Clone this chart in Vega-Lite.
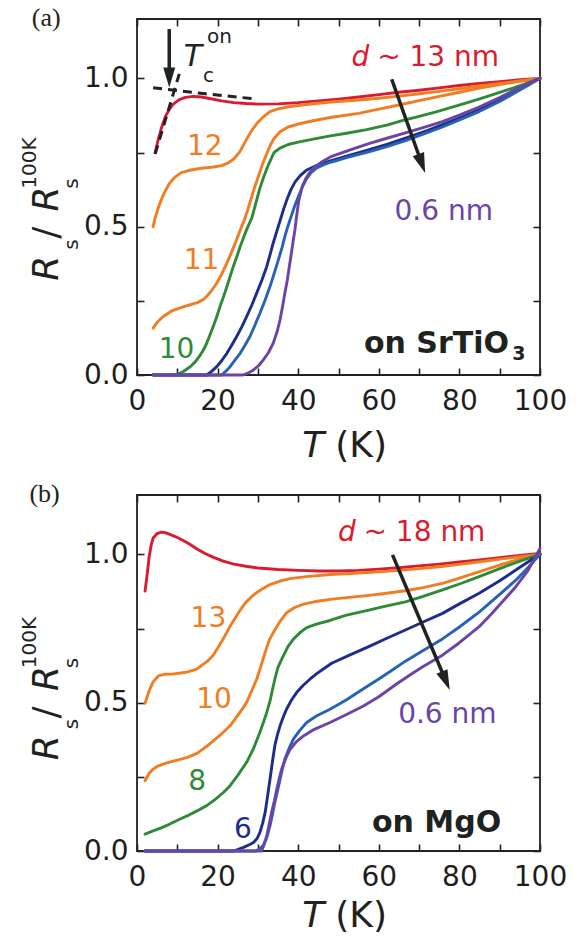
{
 "$schema": "https://vega.github.io/schema/vega-lite/v6.json",
 "background": "white",
 "padding": {"left": 18, "top": 4, "right": 0, "bottom": 0},
 "spacing": 120,
 "bounds": "flush",
 "resolve": {"scale": {"color": "independent"}},
 "config": {
  "view": {"stroke": "#222", "strokeWidth": 1.8},
  "font": "DejaVu Sans",
  "axis": {"domain": false, "grid": false, "tickColor": "#222", "tickWidth": 1.6, "tickSize": -7, "labelFont": "DejaVu Sans", "labelFontSize": 28, "labelColor": "#1e1e1e", "labelFlush": false, "labelOverlap": false}
 },
 "vconcat": [
  {
   "width": 403, "height": 356,
   "layer": [
    {
     "data": {"values": [
      {"series":"13 nm","T":4.5,"R":0.75},{"series":"13 nm","T":5.2,"R":0.79},{"series":"13 nm","T":6,"R":0.83},{"series":"13 nm","T":7,"R":0.87},{"series":"13 nm","T":8,"R":0.895},{"series":"13 nm","T":9,"R":0.913},{"series":"13 nm","T":10.5,"R":0.928},{"series":"13 nm","T":12,"R":0.936},{"series":"13 nm","T":14,"R":0.939},{"series":"13 nm","T":16,"R":0.937},{"series":"13 nm","T":18,"R":0.932},{"series":"13 nm","T":21,"R":0.924},{"series":"13 nm","T":24,"R":0.918},{"series":"13 nm","T":27,"R":0.915},{"series":"13 nm","T":30,"R":0.913},{"series":"13 nm","T":35,"R":0.914},{"series":"13 nm","T":40,"R":0.918},{"series":"13 nm","T":45,"R":0.924},{"series":"13 nm","T":50,"R":0.93},{"series":"13 nm","T":55,"R":0.937},{"series":"13 nm","T":60,"R":0.945},{"series":"13 nm","T":65,"R":0.953},{"series":"13 nm","T":70,"R":0.96},{"series":"13 nm","T":75,"R":0.968},{"series":"13 nm","T":80,"R":0.976},{"series":"13 nm","T":85,"R":0.983},{"series":"13 nm","T":90,"R":0.989},{"series":"13 nm","T":95,"R":0.995},{"series":"13 nm","T":100,"R":1.0},
      {"series":"12 nm","T":4,"R":0.5},{"series":"12 nm","T":4.5,"R":0.53},{"series":"12 nm","T":5.5,"R":0.572},{"series":"12 nm","T":6.5,"R":0.607},{"series":"12 nm","T":8,"R":0.645},{"series":"12 nm","T":9.5,"R":0.668},{"series":"12 nm","T":11,"R":0.682},{"series":"12 nm","T":13,"R":0.69},{"series":"12 nm","T":16,"R":0.697},{"series":"12 nm","T":19,"R":0.701},{"series":"12 nm","T":21,"R":0.706},{"series":"12 nm","T":22.5,"R":0.714},{"series":"12 nm","T":24,"R":0.728},{"series":"12 nm","T":25.5,"R":0.752},{"series":"12 nm","T":27,"R":0.79},{"series":"12 nm","T":28.5,"R":0.825},{"series":"12 nm","T":30,"R":0.852},{"series":"12 nm","T":31.5,"R":0.872},{"series":"12 nm","T":33,"R":0.888},{"series":"12 nm","T":35,"R":0.897},{"series":"12 nm","T":38,"R":0.905},{"series":"12 nm","T":42,"R":0.912},{"series":"12 nm","T":48,"R":0.92},{"series":"12 nm","T":55,"R":0.927},{"series":"12 nm","T":60,"R":0.933},{"series":"12 nm","T":65,"R":0.94},{"series":"12 nm","T":70,"R":0.948},{"series":"12 nm","T":75,"R":0.956},{"series":"12 nm","T":80,"R":0.965},{"series":"12 nm","T":85,"R":0.974},{"series":"12 nm","T":90,"R":0.983},{"series":"12 nm","T":95,"R":0.991},{"series":"12 nm","T":100,"R":1.0},
      {"series":"11 nm","T":4,"R":0.158},{"series":"11 nm","T":5,"R":0.178},{"series":"11 nm","T":6.5,"R":0.197},{"series":"11 nm","T":8.5,"R":0.215},{"series":"11 nm","T":10.7,"R":0.226},{"series":"11 nm","T":13,"R":0.236},{"series":"11 nm","T":15,"R":0.244},{"series":"11 nm","T":16.5,"R":0.255},{"series":"11 nm","T":17.5,"R":0.268},{"series":"11 nm","T":18.7,"R":0.288},{"series":"11 nm","T":19.8,"R":0.31},{"series":"11 nm","T":21,"R":0.34},{"series":"11 nm","T":22.3,"R":0.377},{"series":"11 nm","T":23.5,"R":0.415},{"series":"11 nm","T":24.7,"R":0.456},{"series":"11 nm","T":25.8,"R":0.495},{"series":"11 nm","T":26.8,"R":0.528},{"series":"11 nm","T":28,"R":0.58},{"series":"11 nm","T":29,"R":0.625},{"series":"11 nm","T":30,"R":0.665},{"series":"11 nm","T":31,"R":0.705},{"series":"11 nm","T":32,"R":0.74},{"series":"11 nm","T":33,"R":0.772},{"series":"11 nm","T":34,"R":0.797},{"series":"11 nm","T":35.5,"R":0.82},{"series":"11 nm","T":37.5,"R":0.836},{"series":"11 nm","T":40,"R":0.846},{"series":"11 nm","T":44,"R":0.858},{"series":"11 nm","T":48,"R":0.868},{"series":"11 nm","T":55,"R":0.882},{"series":"11 nm","T":60,"R":0.896},{"series":"11 nm","T":65,"R":0.91},{"series":"11 nm","T":70,"R":0.925},{"series":"11 nm","T":75,"R":0.939},{"series":"11 nm","T":80,"R":0.953},{"series":"11 nm","T":85,"R":0.967},{"series":"11 nm","T":90,"R":0.979},{"series":"11 nm","T":95,"R":0.99},{"series":"11 nm","T":100,"R":1.0},
      {"series":"10 nm","T":9.5,"R":0.0},{"series":"10 nm","T":10.3,"R":0.004},{"series":"10 nm","T":11.5,"R":0.012},{"series":"10 nm","T":13.2,"R":0.028},{"series":"10 nm","T":14.5,"R":0.045},{"series":"10 nm","T":15.6,"R":0.065},{"series":"10 nm","T":16.5,"R":0.085},{"series":"10 nm","T":17.3,"R":0.107},{"series":"10 nm","T":18.1,"R":0.135},{"series":"10 nm","T":18.9,"R":0.163},{"series":"10 nm","T":19.8,"R":0.197},{"series":"10 nm","T":20.6,"R":0.231},{"series":"10 nm","T":21.5,"R":0.265},{"series":"10 nm","T":22.3,"R":0.298},{"series":"10 nm","T":23.1,"R":0.332},{"series":"10 nm","T":23.9,"R":0.366},{"series":"10 nm","T":24.8,"R":0.4},{"series":"10 nm","T":25.6,"R":0.433},{"series":"10 nm","T":26.4,"R":0.462},{"series":"10 nm","T":27.2,"R":0.49},{"series":"10 nm","T":28.5,"R":0.53},{"series":"10 nm","T":29.5,"R":0.58},{"series":"10 nm","T":30.5,"R":0.63},{"series":"10 nm","T":31.5,"R":0.67},{"series":"10 nm","T":32.5,"R":0.705},{"series":"10 nm","T":34,"R":0.75},{"series":"10 nm","T":35.5,"R":0.765},{"series":"10 nm","T":37.5,"R":0.777},{"series":"10 nm","T":40,"R":0.785},{"series":"10 nm","T":44,"R":0.796},{"series":"10 nm","T":48,"R":0.806},{"series":"10 nm","T":52,"R":0.815},{"series":"10 nm","T":57,"R":0.827},{"series":"10 nm","T":62,"R":0.842},{"series":"10 nm","T":66,"R":0.858},{"series":"10 nm","T":70,"R":0.872},{"series":"10 nm","T":74,"R":0.886},{"series":"10 nm","T":78,"R":0.902},{"series":"10 nm","T":82,"R":0.918},{"series":"10 nm","T":86,"R":0.935},{"series":"10 nm","T":90,"R":0.953},{"series":"10 nm","T":94,"R":0.97},{"series":"10 nm","T":97,"R":0.985},{"series":"10 nm","T":100,"R":1.0},
      {"series":"thin 1","T":4,"R":0.0},{"series":"thin 1","T":17.3,"R":0.0},{"series":"thin 1","T":18.5,"R":0.012},{"series":"thin 1","T":19.8,"R":0.028},{"series":"thin 1","T":21,"R":0.048},{"series":"thin 1","T":22.3,"R":0.073},{"series":"thin 1","T":23.5,"R":0.1},{"series":"thin 1","T":24.7,"R":0.129},{"series":"thin 1","T":26,"R":0.162},{"series":"thin 1","T":27.2,"R":0.197},{"series":"thin 1","T":28.5,"R":0.236},{"series":"thin 1","T":29.7,"R":0.276},{"series":"thin 1","T":31,"R":0.32},{"series":"thin 1","T":32.2,"R":0.366},{"series":"thin 1","T":33,"R":0.405},{"series":"thin 1","T":33.8,"R":0.445},{"series":"thin 1","T":34.7,"R":0.485},{"series":"thin 1","T":35.5,"R":0.52},{"series":"thin 1","T":36.4,"R":0.56},{"series":"thin 1","T":37.3,"R":0.595},{"series":"thin 1","T":38.2,"R":0.625},{"series":"thin 1","T":39.2,"R":0.65},{"series":"thin 1","T":40.5,"R":0.672},{"series":"thin 1","T":42,"R":0.69},{"series":"thin 1","T":44,"R":0.703},{"series":"thin 1","T":48,"R":0.722},{"series":"thin 1","T":52,"R":0.738},{"series":"thin 1","T":57,"R":0.757},{"series":"thin 1","T":62,"R":0.777},{"series":"thin 1","T":67,"R":0.8},{"series":"thin 1","T":72,"R":0.824},{"series":"thin 1","T":76,"R":0.845},{"series":"thin 1","T":80,"R":0.866},{"series":"thin 1","T":85,"R":0.895},{"series":"thin 1","T":90,"R":0.93},{"series":"thin 1","T":94,"R":0.961},{"series":"thin 1","T":97,"R":0.98},{"series":"thin 1","T":100,"R":1.0},
      {"series":"thin 2","T":4,"R":0.0},{"series":"thin 2","T":21,"R":0.0},{"series":"thin 2","T":22,"R":0.012},{"series":"thin 2","T":23.1,"R":0.028},{"series":"thin 2","T":24.3,"R":0.05},{"series":"thin 2","T":25.6,"R":0.073},{"series":"thin 2","T":26.8,"R":0.1},{"series":"thin 2","T":28,"R":0.129},{"series":"thin 2","T":29.2,"R":0.166},{"series":"thin 2","T":30.5,"R":0.208},{"series":"thin 2","T":31.8,"R":0.253},{"series":"thin 2","T":33,"R":0.298},{"series":"thin 2","T":34.1,"R":0.345},{"series":"thin 2","T":35.1,"R":0.389},{"series":"thin 2","T":36,"R":0.43},{"series":"thin 2","T":36.7,"R":0.467},{"series":"thin 2","T":37.4,"R":0.5},{"series":"thin 2","T":38,"R":0.524},{"series":"thin 2","T":39,"R":0.565},{"series":"thin 2","T":40,"R":0.6},{"series":"thin 2","T":41,"R":0.633},{"series":"thin 2","T":42,"R":0.66},{"series":"thin 2","T":43.2,"R":0.682},{"series":"thin 2","T":44.6,"R":0.698},{"series":"thin 2","T":46.5,"R":0.71},{"series":"thin 2","T":48.3,"R":0.718},{"series":"thin 2","T":52,"R":0.733},{"series":"thin 2","T":57.5,"R":0.752},{"series":"thin 2","T":62,"R":0.77},{"series":"thin 2","T":66.6,"R":0.79},{"series":"thin 2","T":71,"R":0.812},{"series":"thin 2","T":75.8,"R":0.836},{"series":"thin 2","T":80,"R":0.86},{"series":"thin 2","T":84.9,"R":0.888},{"series":"thin 2","T":90,"R":0.922},{"series":"thin 2","T":94,"R":0.953},{"series":"thin 2","T":97,"R":0.976},{"series":"thin 2","T":100,"R":1.0},
      {"series":"0.6 nm","T":4,"R":0.0},{"series":"0.6 nm","T":26.3,"R":0.0},{"series":"0.6 nm","T":27.5,"R":0.006},{"series":"0.6 nm","T":28.9,"R":0.017},{"series":"0.6 nm","T":30.2,"R":0.032},{"series":"0.6 nm","T":31.3,"R":0.05},{"series":"0.6 nm","T":32.6,"R":0.075},{"series":"0.6 nm","T":33.8,"R":0.107},{"series":"0.6 nm","T":34.7,"R":0.143},{"series":"0.6 nm","T":35.5,"R":0.186},{"series":"0.6 nm","T":36.1,"R":0.23},{"series":"0.6 nm","T":36.7,"R":0.276},{"series":"0.6 nm","T":37.3,"R":0.32},{"series":"0.6 nm","T":37.8,"R":0.366},{"series":"0.6 nm","T":38.3,"R":0.41},{"series":"0.6 nm","T":38.8,"R":0.456},{"series":"0.6 nm","T":39.2,"R":0.49},{"series":"0.6 nm","T":39.5,"R":0.524},{"series":"0.6 nm","T":40.1,"R":0.585},{"series":"0.6 nm","T":41,"R":0.636},{"series":"0.6 nm","T":42,"R":0.665},{"series":"0.6 nm","T":42.8,"R":0.682},{"series":"0.6 nm","T":44,"R":0.7},{"series":"0.6 nm","T":45.6,"R":0.716},{"series":"0.6 nm","T":48.3,"R":0.737},{"series":"0.6 nm","T":52.9,"R":0.759},{"series":"0.6 nm","T":57.5,"R":0.78},{"series":"0.6 nm","T":62,"R":0.798},{"series":"0.6 nm","T":66.6,"R":0.816},{"series":"0.6 nm","T":71,"R":0.834},{"series":"0.6 nm","T":75.8,"R":0.854},{"series":"0.6 nm","T":80,"R":0.876},{"series":"0.6 nm","T":84.9,"R":0.903},{"series":"0.6 nm","T":90,"R":0.935},{"series":"0.6 nm","T":94,"R":0.963},{"series":"0.6 nm","T":97,"R":0.982},{"series":"0.6 nm","T":100,"R":1.0}
     ]},
     "mark": {"type": "line", "strokeWidth": 2.9, "strokeCap": "round", "strokeJoin": "round"},
     "encoding": {
      "x": {"field": "T", "type": "quantitative", "scale": {"domain": [0, 100], "nice": false, "zero": false}, "axis": {"orient": "bottom", "values": [0,10,20,30,40,50,60,70,80,90,100], "labelExpr": "datum.value % 20 == 0 ? datum.label : ''", "title": null, "labelPadding": 19}},
      "y": {"field": "R", "type": "quantitative", "scale": {"domain": [0, 1.2], "nice": false, "zero": false}, "axis": {"orient": "left", "values": [0,0.25,0.5,0.75,1], "format": ".1f", "labelExpr": "(datum.value == 0 || datum.value == 0.5 || datum.value == 1) ? datum.label : ''", "title": null, "labelPadding": 16}},
      "color": {"field": "series", "type": "nominal", "scale": {"domain": ["13 nm","12 nm","11 nm","10 nm","thin 1","thin 2","0.6 nm"], "range": ["#d81b30","#f07d22","#f07d22","#2f8a37","#1d2d8a","#2762b5","#6b44a6"]}, "legend": null}
     }
    },
    {
     "data": {"values": [
      {"T":12.4,"R":0.743,"text":"12","series":"12 nm"},
      {"T":11.6,"R":0.356,"text":"11","series":"11 nm"},
      {"T":5.4,"R":0.058,"text":"10","series":"10 nm"},
      {"T":59.6,"R":1.042,"text":"~ 13 nm","series":"13 nm"},
      {"T":63.9,"R":0.524,"text":"0.6 nm","series":"0.6 nm"}
     ]},
     "mark": {"type": "text", "fontSize": 28, "align": "left", "baseline": "alphabetic"},
     "encoding": {
      "x": {"field": "T", "type": "quantitative", "axis": {"orient": "top", "values": [0,10,20,30,40,50,60,70,80,90,100], "labels": false, "title": null}},
      "y": {"field": "R", "type": "quantitative", "axis": {"orient": "right", "values": [0,0.25,0.5,0.75,1], "labels": false, "title": null}},
      "text": {"field": "text"},
      "color": {"field": "series", "type": "nominal", "legend": null}
     }
    },
    {
     "data": {"values": [{"T":53.2,"R":1.042,"text":"d","series":"13 nm"}]},
     "mark": {"type": "text", "fontSize": 28, "fontStyle": "italic", "align": "left", "baseline": "alphabetic"},
     "encoding": {"x": {"field": "T", "type": "quantitative", "axis": null}, "y": {"field": "R", "type": "quantitative", "axis": null}, "text": {"field": "text"}, "color": {"field": "series", "type": "nominal", "legend": null}}
    },
    {
     "data": {"values": [{"T":56.3,"R":0.075,"text":"on SrTiO"}]},
     "mark": {"type": "text", "fontSize": 30, "fontWeight": "bold", "color": "#1e2320", "align": "left", "baseline": "alphabetic"},
     "encoding": {"x": {"field": "T", "type": "quantitative", "axis": null}, "y": {"field": "R", "type": "quantitative", "axis": null}, "text": {"field": "text"}}
    },
    {
     "data": {"values": [{"T":93.1,"R":0.051,"text":"3"}]},
     "mark": {"type": "text", "fontSize": 19, "fontWeight": "bold", "color": "#1e2320", "align": "left", "baseline": "alphabetic"},
     "encoding": {"x": {"field": "T", "type": "quantitative", "axis": null}, "y": {"field": "R", "type": "quantitative", "axis": null}, "text": {"field": "text"}}
    },
    {
     "data": {"values": [{"seg":"steep","T":4.5,"R":0.745},{"seg":"steep","T":10.5,"R":1.015},{"seg":"flat","T":4.0,"R":0.968},{"seg":"flat","T":17,"R":0.948},{"seg":"flat","T":29.0,"R":0.931}]},
     "mark": {"type": "line", "color": "#222", "strokeWidth": 3, "strokeDash": [9, 6]},
     "encoding": {"x": {"field": "T", "type": "quantitative", "axis": null}, "y": {"field": "R", "type": "quantitative", "axis": null}, "detail": {"field": "seg"}}
    },
    {
     "data": {"values": [{"seg":"tc","T":8.0,"R":1.166},{"seg":"tc","T":8.0,"R":1.0},{"seg":"d","T":63.2,"R":0.997},{"seg":"d","T":70.66,"R":0.713}]},
     "mark": {"type": "line", "color": "#1f2420", "strokeWidth": 3.5},
     "encoding": {"x": {"field": "T", "type": "quantitative", "axis": null}, "y": {"field": "R", "type": "quantitative", "axis": null}, "detail": {"field": "seg"}}
    },
    {
     "data": {"values": [{"T":8.0,"R":0.969}]},
     "mark": {"type": "point", "shape": "M0,0L-0.6,-2L0.6,-2Z", "size": 400, "filled": true, "color": "#1f2420", "opacity": 1, "strokeWidth": 0, "angle": 0},
     "encoding": {"x": {"field": "T", "type": "quantitative", "axis": null}, "y": {"field": "R", "type": "quantitative", "axis": null}}
    },
    {
     "data": {"values": [{"T":71.5,"R":0.681}]},
     "mark": {"type": "point", "shape": "M0,0L-0.6,-2L0.6,-2Z", "size": 400, "filled": true, "color": "#1f2420", "opacity": 1, "strokeWidth": 0, "angle": 340.3},
     "encoding": {"x": {"field": "T", "type": "quantitative", "axis": null}, "y": {"field": "R", "type": "quantitative", "axis": null}}
    },
    {
     "data": {"values": [{"T":11.6,"R":1.04,"text":"T"}]},
     "mark": {"type": "text", "fontSize": 30, "fontStyle": "italic", "color": "#1e2320", "align": "left", "baseline": "alphabetic"},
     "encoding": {"x": {"field": "T", "type": "quantitative", "axis": null}, "y": {"field": "R", "type": "quantitative", "axis": null}, "text": {"field": "text"}}
    },
    {
     "data": {"values": [{"T":16.4,"R":0.986,"text":"c"},{"T":17.4,"R":1.12,"text":"on"}]},
     "mark": {"type": "text", "fontSize": 20, "color": "#1e2320", "align": "left", "baseline": "alphabetic"},
     "encoding": {"x": {"field": "T", "type": "quantitative", "axis": null}, "y": {"field": "R", "type": "quantitative", "axis": null}, "text": {"field": "text"}}
    },
    {
     "data": {"values": [{"T":-26.1,"R":1.176,"text":"(a)"}]},
     "mark": {"type": "text", "font": "Liberation Serif", "fontSize": 26, "color": "#1e2320", "align": "left", "baseline": "alphabetic"},
     "encoding": {"x": {"field": "T", "type": "quantitative", "axis": null}, "y": {"field": "R", "type": "quantitative", "axis": null}, "text": {"field": "text"}}
    },
    {
     "data": {"values": [{"T":41.0,"R":-0.277,"text":"T"}]},
     "mark": {"type": "text", "fontSize": 36, "fontStyle": "italic", "color": "#1e2320", "align": "left", "baseline": "alphabetic"},
     "encoding": {"x": {"field": "T", "type": "quantitative", "axis": null}, "y": {"field": "R", "type": "quantitative", "axis": null}, "text": {"field": "text"}}
    },
    {
     "data": {"values": [{"T":49.2,"R":-0.277,"text":"(K)"},{"T":-19.6,"R":0.459,"text":"/"}]},
     "mark": {"type": "text", "fontSize": 36, "color": "#1e2320", "align": "left", "baseline": "alphabetic"},
     "encoding": {"x": {"field": "T", "type": "quantitative", "axis": null}, "y": {"field": "R", "type": "quantitative", "axis": null}, "text": {"field": "text"}, "angle": {"condition": {"test": "datum.text == '/'", "value": 270}, "value": 0}}
    },
    {
     "data": {"values": [{"T":-19.6,"R":0.318,"text":"R"},{"T":-19.6,"R":0.551,"text":"R"}]},
     "mark": {"type": "text", "fontSize": 36, "fontStyle": "italic", "angle": 270, "color": "#1e2320", "align": "left", "baseline": "alphabetic"},
     "encoding": {"x": {"field": "T", "type": "quantitative", "axis": null}, "y": {"field": "R", "type": "quantitative", "axis": null}, "text": {"field": "text"}}
    },
    {
     "data": {"values": [{"T":-14.6,"R":0.422,"text":"s"},{"T":-14.6,"R":0.628,"text":"s"},{"T":-25.1,"R":0.628,"text":"100K"}]},
     "mark": {"type": "text", "fontSize": 20, "angle": 270, "color": "#1e2320", "align": "left", "baseline": "alphabetic"},
     "encoding": {"x": {"field": "T", "type": "quantitative", "axis": null}, "y": {"field": "R", "type": "quantitative", "axis": null}, "text": {"field": "text"}}
    }
   ]
  },
  {
   "width": 403, "height": 356,
   "layer": [
    {
     "data": {"values": [
      {"series":"18 nm","T":2,"R":0.876},{"series":"18 nm","T":2.5,"R":0.93},{"series":"18 nm","T":3,"R":0.99},{"series":"18 nm","T":3.5,"R":1.03},{"series":"18 nm","T":4,"R":1.055},{"series":"18 nm","T":5,"R":1.07},{"series":"18 nm","T":6,"R":1.075},{"series":"18 nm","T":7,"R":1.073},{"series":"18 nm","T":8,"R":1.068},{"series":"18 nm","T":9.5,"R":1.06},{"series":"18 nm","T":11,"R":1.05},{"series":"18 nm","T":13,"R":1.035},{"series":"18 nm","T":15,"R":1.017},{"series":"18 nm","T":17,"R":1.002},{"series":"18 nm","T":19,"R":0.99},{"series":"18 nm","T":21.4,"R":0.977},{"series":"18 nm","T":24,"R":0.967},{"series":"18 nm","T":27,"R":0.96},{"series":"18 nm","T":30,"R":0.954},{"series":"18 nm","T":35,"R":0.949},{"series":"18 nm","T":40,"R":0.946},{"series":"18 nm","T":45,"R":0.944},{"series":"18 nm","T":50,"R":0.944},{"series":"18 nm","T":55,"R":0.946},{"series":"18 nm","T":60,"R":0.95},{"series":"18 nm","T":65,"R":0.955},{"series":"18 nm","T":70,"R":0.961},{"series":"18 nm","T":75,"R":0.967},{"series":"18 nm","T":80,"R":0.974},{"series":"18 nm","T":85,"R":0.981},{"series":"18 nm","T":90,"R":0.989},{"series":"18 nm","T":95,"R":0.996},{"series":"18 nm","T":100,"R":1.003},
      {"series":"13 nm","T":2,"R":0.498},{"series":"13 nm","T":3,"R":0.54},{"series":"13 nm","T":4,"R":0.57},{"series":"13 nm","T":5.3,"R":0.59},{"series":"13 nm","T":7,"R":0.596},{"series":"13 nm","T":9,"R":0.597},{"series":"13 nm","T":11,"R":0.6},{"series":"13 nm","T":12.6,"R":0.604},{"series":"13 nm","T":14.8,"R":0.613},{"series":"13 nm","T":16.3,"R":0.628},{"series":"13 nm","T":17.5,"R":0.64},{"series":"13 nm","T":18.9,"R":0.66},{"series":"13 nm","T":20.3,"R":0.69},{"series":"13 nm","T":21.8,"R":0.725},{"series":"13 nm","T":23.2,"R":0.76},{"series":"13 nm","T":24.5,"R":0.788},{"series":"13 nm","T":25.6,"R":0.812},{"series":"13 nm","T":27,"R":0.838},{"series":"13 nm","T":28.5,"R":0.858},{"series":"13 nm","T":30,"R":0.874},{"series":"13 nm","T":31.3,"R":0.885},{"series":"13 nm","T":33,"R":0.898},{"series":"13 nm","T":35.5,"R":0.91},{"series":"13 nm","T":38,"R":0.918},{"series":"13 nm","T":42,"R":0.925},{"series":"13 nm","T":47.9,"R":0.932},{"series":"13 nm","T":55,"R":0.937},{"series":"13 nm","T":60,"R":0.941},{"series":"13 nm","T":65,"R":0.946},{"series":"13 nm","T":70,"R":0.952},{"series":"13 nm","T":75,"R":0.958},{"series":"13 nm","T":80,"R":0.966},{"series":"13 nm","T":85,"R":0.975},{"series":"13 nm","T":90,"R":0.984},{"series":"13 nm","T":95,"R":0.992},{"series":"13 nm","T":100,"R":1.0},
      {"series":"10 nm","T":2,"R":0.237},{"series":"10 nm","T":3,"R":0.262},{"series":"10 nm","T":4,"R":0.276},{"series":"10 nm","T":5,"R":0.285},{"series":"10 nm","T":7,"R":0.295},{"series":"10 nm","T":9,"R":0.303},{"series":"10 nm","T":11,"R":0.31},{"series":"10 nm","T":13,"R":0.318},{"series":"10 nm","T":15,"R":0.33},{"series":"10 nm","T":17.3,"R":0.353},{"series":"10 nm","T":19,"R":0.372},{"series":"10 nm","T":21,"R":0.395},{"series":"10 nm","T":23.1,"R":0.422},{"series":"10 nm","T":25,"R":0.457},{"series":"10 nm","T":26.2,"R":0.48},{"series":"10 nm","T":27.2,"R":0.501},{"series":"10 nm","T":28.3,"R":0.535},{"series":"10 nm","T":29.7,"R":0.579},{"series":"10 nm","T":30.8,"R":0.625},{"series":"10 nm","T":31.8,"R":0.67},{"series":"10 nm","T":32.8,"R":0.71},{"series":"10 nm","T":33.8,"R":0.736},{"series":"10 nm","T":35.4,"R":0.772},{"series":"10 nm","T":37.1,"R":0.803},{"series":"10 nm","T":39,"R":0.82},{"series":"10 nm","T":41.3,"R":0.832},{"series":"10 nm","T":44,"R":0.84},{"series":"10 nm","T":47.9,"R":0.848},{"series":"10 nm","T":52,"R":0.854},{"series":"10 nm","T":57,"R":0.861},{"series":"10 nm","T":62,"R":0.869},{"series":"10 nm","T":67,"R":0.878},{"series":"10 nm","T":71,"R":0.888},{"series":"10 nm","T":76,"R":0.903},{"series":"10 nm","T":80,"R":0.92},{"series":"10 nm","T":85,"R":0.942},{"series":"10 nm","T":90,"R":0.964},{"series":"10 nm","T":95,"R":0.984},{"series":"10 nm","T":100,"R":1.0},
      {"series":"8 nm","T":2,"R":0.057},{"series":"8 nm","T":4,"R":0.068},{"series":"8 nm","T":6,"R":0.078},{"series":"8 nm","T":8,"R":0.09},{"series":"8 nm","T":10.7,"R":0.108},{"series":"8 nm","T":13,"R":0.122},{"series":"8 nm","T":15,"R":0.136},{"series":"8 nm","T":17.3,"R":0.153},{"series":"8 nm","T":19.5,"R":0.175},{"series":"8 nm","T":21.5,"R":0.198},{"series":"8 nm","T":23.1,"R":0.22},{"series":"8 nm","T":25,"R":0.255},{"series":"8 nm","T":27.2,"R":0.299},{"series":"8 nm","T":28.9,"R":0.345},{"series":"8 nm","T":30.5,"R":0.4},{"series":"8 nm","T":31.4,"R":0.435},{"series":"8 nm","T":32.2,"R":0.467},{"series":"8 nm","T":33,"R":0.505},{"series":"8 nm","T":33.5,"R":0.537},{"series":"8 nm","T":34.2,"R":0.579},{"series":"8 nm","T":35,"R":0.62},{"series":"8 nm","T":36.3,"R":0.658},{"series":"8 nm","T":37.5,"R":0.69},{"series":"8 nm","T":38.8,"R":0.714},{"series":"8 nm","T":40.5,"R":0.737},{"series":"8 nm","T":42.1,"R":0.753},{"series":"8 nm","T":44.5,"R":0.765},{"series":"8 nm","T":47.9,"R":0.777},{"series":"8 nm","T":50,"R":0.787},{"series":"8 nm","T":52,"R":0.795},{"series":"8 nm","T":57.5,"R":0.812},{"series":"8 nm","T":62,"R":0.826},{"series":"8 nm","T":66.6,"R":0.84},{"series":"8 nm","T":71,"R":0.858},{"series":"8 nm","T":75.8,"R":0.88},{"series":"8 nm","T":80,"R":0.9},{"series":"8 nm","T":84.9,"R":0.925},{"series":"8 nm","T":90,"R":0.952},{"series":"8 nm","T":94,"R":0.972},{"series":"8 nm","T":97,"R":0.986},{"series":"8 nm","T":100,"R":1.0},
      {"series":"6 nm","T":2,"R":0.0},{"series":"6 nm","T":24,"R":0.0},{"series":"6 nm","T":26.4,"R":0.012},{"series":"6 nm","T":28,"R":0.022},{"series":"6 nm","T":28.9,"R":0.029},{"series":"6 nm","T":29.8,"R":0.042},{"series":"6 nm","T":30.5,"R":0.063},{"series":"6 nm","T":31.2,"R":0.095},{"series":"6 nm","T":31.8,"R":0.13},{"series":"6 nm","T":32.4,"R":0.185},{"series":"6 nm","T":33,"R":0.242},{"series":"6 nm","T":33.6,"R":0.3},{"series":"6 nm","T":34.2,"R":0.355},{"series":"6 nm","T":34.8,"R":0.39},{"series":"6 nm","T":35.5,"R":0.422},{"series":"6 nm","T":36.3,"R":0.452},{"series":"6 nm","T":37.1,"R":0.478},{"series":"6 nm","T":38.3,"R":0.508},{"series":"6 nm","T":39.6,"R":0.534},{"series":"6 nm","T":41.2,"R":0.558},{"series":"6 nm","T":42.9,"R":0.579},{"series":"6 nm","T":44.6,"R":0.598},{"series":"6 nm","T":46.5,"R":0.616},{"series":"6 nm","T":48.3,"R":0.633},{"series":"6 nm","T":53,"R":0.662},{"series":"6 nm","T":57.5,"R":0.689},{"series":"6 nm","T":62,"R":0.717},{"series":"6 nm","T":66.6,"R":0.745},{"series":"6 nm","T":71,"R":0.772},{"series":"6 nm","T":75.8,"R":0.801},{"series":"6 nm","T":80,"R":0.833},{"series":"6 nm","T":84.9,"R":0.869},{"series":"6 nm","T":90,"R":0.911},{"series":"6 nm","T":94,"R":0.947},{"series":"6 nm","T":97,"R":0.974},{"series":"6 nm","T":100,"R":1.0},
      {"series":"thin","T":2,"R":0.0},{"series":"thin","T":29.5,"R":0.0},{"series":"thin","T":30.5,"R":0.008},{"series":"thin","T":31.3,"R":0.018},{"series":"thin","T":32.2,"R":0.045},{"series":"thin","T":33,"R":0.085},{"series":"thin","T":33.6,"R":0.122},{"series":"thin","T":34.2,"R":0.164},{"series":"thin","T":34.9,"R":0.205},{"series":"thin","T":35.5,"R":0.242},{"series":"thin","T":36.1,"R":0.278},{"series":"thin","T":36.7,"R":0.31},{"series":"thin","T":37.7,"R":0.345},{"series":"thin","T":38.8,"R":0.377},{"series":"thin","T":40.3,"R":0.405},{"series":"thin","T":42.1,"R":0.433},{"series":"thin","T":44.5,"R":0.455},{"series":"thin","T":47.9,"R":0.478},{"series":"thin","T":52,"R":0.51},{"series":"thin","T":56,"R":0.545},{"series":"thin","T":60,"R":0.58},{"series":"thin","T":63,"R":0.607},{"series":"thin","T":66.6,"R":0.64},{"series":"thin","T":71,"R":0.676},{"series":"thin","T":75.8,"R":0.715},{"series":"thin","T":80,"R":0.755},{"series":"thin","T":84.9,"R":0.805},{"series":"thin","T":90,"R":0.865},{"series":"thin","T":94,"R":0.913},{"series":"thin","T":97,"R":0.955},{"series":"thin","T":100,"R":1.0},
      {"series":"0.6 nm","T":2,"R":0.0},{"series":"0.6 nm","T":30.9,"R":0.0},{"series":"0.6 nm","T":31.5,"R":0.02},{"series":"0.6 nm","T":32.2,"R":0.052},{"series":"0.6 nm","T":32.8,"R":0.09},{"series":"0.6 nm","T":33.4,"R":0.13},{"series":"0.6 nm","T":34.1,"R":0.17},{"series":"0.6 nm","T":34.7,"R":0.209},{"series":"0.6 nm","T":35.3,"R":0.245},{"series":"0.6 nm","T":35.9,"R":0.276},{"series":"0.6 nm","T":36.9,"R":0.312},{"series":"0.6 nm","T":38,"R":0.343},{"series":"0.6 nm","T":39.5,"R":0.368},{"series":"0.6 nm","T":41.3,"R":0.388},{"series":"0.6 nm","T":44,"R":0.41},{"series":"0.6 nm","T":47.9,"R":0.433},{"series":"0.6 nm","T":52,"R":0.46},{"series":"0.6 nm","T":56.2,"R":0.489},{"series":"0.6 nm","T":60,"R":0.52},{"series":"0.6 nm","T":64.4,"R":0.563},{"series":"0.6 nm","T":68,"R":0.596},{"series":"0.6 nm","T":71,"R":0.622},{"series":"0.6 nm","T":75.8,"R":0.66},{"series":"0.6 nm","T":80,"R":0.702},{"series":"0.6 nm","T":84.9,"R":0.756},{"series":"0.6 nm","T":88,"R":0.8},{"series":"0.6 nm","T":91,"R":0.845},{"series":"0.6 nm","T":94,"R":0.891},{"series":"0.6 nm","T":97,"R":0.945},{"series":"0.6 nm","T":100,"R":1.02}
     ]},
     "mark": {"type": "line", "strokeWidth": 2.9, "strokeCap": "round", "strokeJoin": "round"},
     "encoding": {
      "x": {"field": "T", "type": "quantitative", "scale": {"domain": [0, 100], "nice": false, "zero": false}, "axis": {"orient": "bottom", "values": [0,10,20,30,40,50,60,70,80,90,100], "labelExpr": "datum.value % 20 == 0 ? datum.label : ''", "title": null, "labelPadding": 19}},
      "y": {"field": "R", "type": "quantitative", "scale": {"domain": [0, 1.2], "nice": false, "zero": false}, "axis": {"orient": "left", "values": [0,0.25,0.5,0.75,1], "format": ".1f", "labelExpr": "(datum.value == 0 || datum.value == 0.5 || datum.value == 1) ? datum.label : ''", "title": null, "labelPadding": 16}},
      "color": {"field": "series", "type": "nominal", "scale": {"domain": ["18 nm","13 nm","10 nm","8 nm","6 nm","thin","0.6 nm"], "range": ["#d81b30","#f07d22","#f07d22","#2f8a37","#1d2d8a","#2762b5","#6b44a6"]}, "legend": null}
     }
    },
    {
     "data": {"values": [
      {"T":13.3,"R":0.756,"text":"13","series":"13 nm"},
      {"T":14.7,"R":0.481,"text":"10","series":"10 nm"},
      {"T":12.7,"R":0.206,"text":"8","series":"8 nm"},
      {"T":24.1,"R":0.043,"text":"6","series":"6 nm"},
      {"T":56.2,"R":1.046,"text":"~ 18 nm","series":"18 nm"},
      {"T":64.8,"R":0.43,"text":"0.6 nm","series":"0.6 nm"}
     ]},
     "mark": {"type": "text", "fontSize": 28, "align": "left", "baseline": "alphabetic"},
     "encoding": {
      "x": {"field": "T", "type": "quantitative", "axis": {"orient": "top", "values": [0,10,20,30,40,50,60,70,80,90,100], "labels": false, "title": null}},
      "y": {"field": "R", "type": "quantitative", "axis": {"orient": "right", "values": [0,0.25,0.5,0.75,1], "labels": false, "title": null}},
      "text": {"field": "text"},
      "color": {"field": "series", "type": "nominal", "legend": null}
     }
    },
    {
     "data": {"values": [{"T":49.9,"R":1.046,"text":"d","series":"18 nm"}]},
     "mark": {"type": "text", "fontSize": 28, "fontStyle": "italic", "align": "left", "baseline": "alphabetic"},
     "encoding": {"x": {"field": "T", "type": "quantitative", "axis": null}, "y": {"field": "R", "type": "quantitative", "axis": null}, "text": {"field": "text"}, "color": {"field": "series", "type": "nominal", "legend": null}}
    },
    {
     "data": {"values": [{"T":58.3,"R":0.065,"text":"on MgO"}]},
     "mark": {"type": "text", "fontSize": 30, "fontWeight": "bold", "color": "#1e2320", "align": "left", "baseline": "alphabetic"},
     "encoding": {"x": {"field": "T", "type": "quantitative", "axis": null}, "y": {"field": "R", "type": "quantitative", "axis": null}, "text": {"field": "text"}}
    },
    {
     "data": {"values": [{"seg":"d","T":63.4,"R":0.998},{"seg":"d","T":76.63,"R":0.574}]},
     "mark": {"type": "line", "color": "#1f2420", "strokeWidth": 3.5},
     "encoding": {"x": {"field": "T", "type": "quantitative", "axis": null}, "y": {"field": "R", "type": "quantitative", "axis": null}, "detail": {"field": "seg"}}
    },
    {
     "data": {"values": [{"T":77.6,"R":0.543}]},
     "mark": {"type": "point", "shape": "M0,0L-0.6,-2L0.6,-2Z", "size": 400, "filled": true, "color": "#1f2420", "opacity": 1, "strokeWidth": 0, "angle": 337.1},
     "encoding": {"x": {"field": "T", "type": "quantitative", "axis": null}, "y": {"field": "R", "type": "quantitative", "axis": null}}
    },
    {
     "data": {"values": [{"T":-26.7,"R":1.178,"text":"(b)"}]},
     "mark": {"type": "text", "font": "Liberation Serif", "fontSize": 26, "color": "#1e2320", "align": "left", "baseline": "alphabetic"},
     "encoding": {"x": {"field": "T", "type": "quantitative", "axis": null}, "y": {"field": "R", "type": "quantitative", "axis": null}, "text": {"field": "text"}}
    },
    {
     "data": {"values": [{"T":41.0,"R":-0.256,"text":"T"}]},
     "mark": {"type": "text", "fontSize": 36, "fontStyle": "italic", "color": "#1e2320", "align": "left", "baseline": "alphabetic"},
     "encoding": {"x": {"field": "T", "type": "quantitative", "axis": null}, "y": {"field": "R", "type": "quantitative", "axis": null}, "text": {"field": "text"}}
    },
    {
     "data": {"values": [{"T":49.2,"R":-0.256,"text":"(K)"},{"T":-19.6,"R":0.447,"text":"/"}]},
     "mark": {"type": "text", "fontSize": 36, "color": "#1e2320", "align": "left", "baseline": "alphabetic"},
     "encoding": {"x": {"field": "T", "type": "quantitative", "axis": null}, "y": {"field": "R", "type": "quantitative", "axis": null}, "text": {"field": "text"}, "angle": {"condition": {"test": "datum.text == '/'", "value": 270}, "value": 0}}
    },
    {
     "data": {"values": [{"T":-19.6,"R":0.306,"text":"R"},{"T":-19.6,"R":0.539,"text":"R"}]},
     "mark": {"type": "text", "fontSize": 36, "fontStyle": "italic", "angle": 270, "color": "#1e2320", "align": "left", "baseline": "alphabetic"},
     "encoding": {"x": {"field": "T", "type": "quantitative", "axis": null}, "y": {"field": "R", "type": "quantitative", "axis": null}, "text": {"field": "text"}}
    },
    {
     "data": {"values": [{"T":-14.6,"R":0.41,"text":"s"},{"T":-14.6,"R":0.616,"text":"s"},{"T":-25.1,"R":0.616,"text":"100K"}]},
     "mark": {"type": "text", "fontSize": 20, "angle": 270, "color": "#1e2320", "align": "left", "baseline": "alphabetic"},
     "encoding": {"x": {"field": "T", "type": "quantitative", "axis": null}, "y": {"field": "R", "type": "quantitative", "axis": null}, "text": {"field": "text"}}
    }
   ]
  }
 ]
}
